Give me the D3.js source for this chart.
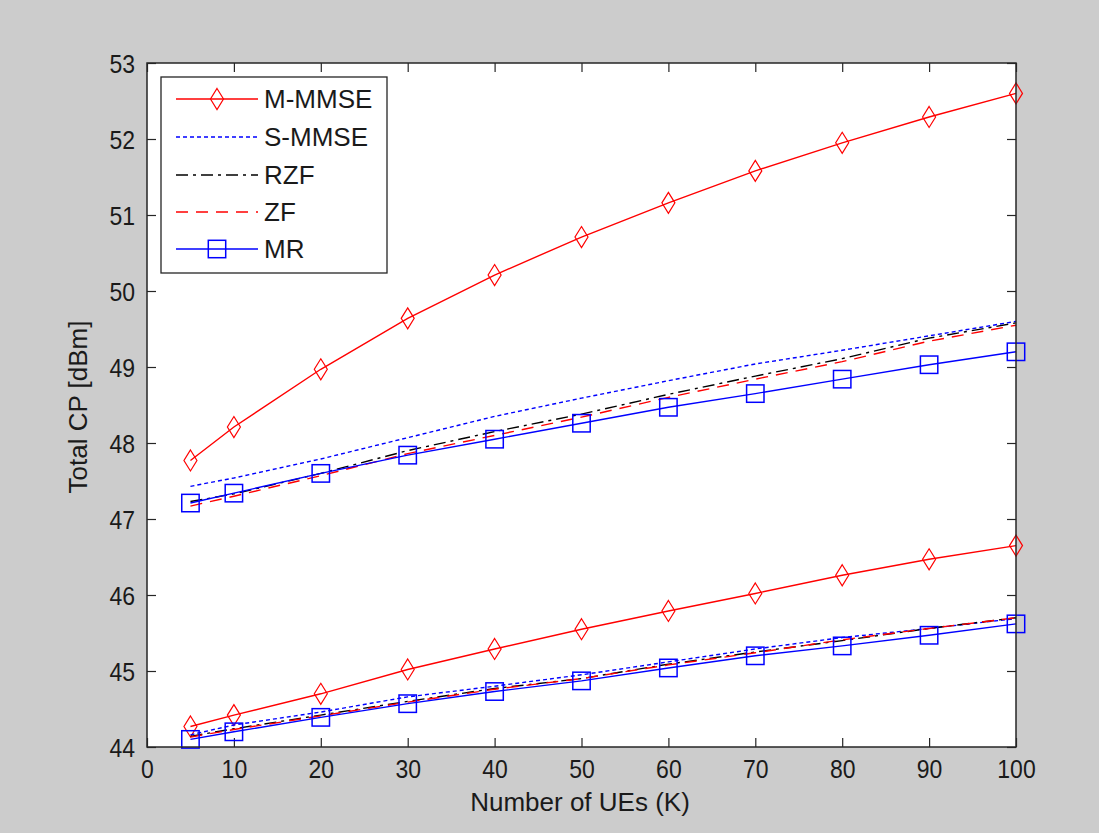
<!DOCTYPE html>
<html>
<head>
<meta charset="utf-8">
<script src="https://cdn.jsdelivr.net/npm/d3@7"></script>
<style>
  html, body { margin: 0; padding: 0; background: #cccccc; }
  svg { display: block; }
  text { font-family: "Liberation Sans", Arial, sans-serif; fill: #1a1a1a; }
</style>
</head>
<body>
<svg id="chart" width="1099" height="833"></svg>
<script>
// ---- data ----
const users = [5, 10, 20, 30, 40, 50, 60, 70, 80, 90, 100];
const xTicks = [0, 10, 20, 30, 40, 50, 60, 70, 80, 90, 100];
const yTicks = [44, 45, 46, 47, 48, 49, 50, 51, 52, 53];
const seriesNames = ["M-MMSE", "S-MMSE", "RZF", "ZF", "MR"];

// upper group of curves
const mmmseHigh = [47.77, 48.21, 48.97, 49.64, 50.21, 50.71, 51.16, 51.58, 51.95, 52.29, 52.60];
const smmseHigh = [47.43, 47.54, 47.79, 48.07, 48.35, 48.59, 48.82, 49.04, 49.22, 49.41, 49.60];
const rzfHigh   = [47.23, 47.33, 47.60, 47.90, 48.15, 48.38, 48.64, 48.88, 49.11, 49.38, 49.58];
const zfHigh    = [47.17, 47.30, 47.57, 47.86, 48.10, 48.34, 48.60, 48.84, 49.07, 49.34, 49.55];
const mrHigh    = [47.21, 47.34, 47.60, 47.84, 48.05, 48.26, 48.47, 48.65, 48.84, 49.03, 49.20];

// lower group of curves
const mmmseLow = [44.27, 44.42, 44.70, 45.02, 45.29, 45.55, 45.79, 46.02, 46.26, 46.47, 46.65];
const smmseLow = [44.16, 44.29, 44.46, 44.66, 44.80, 44.95, 45.12, 45.29, 45.44, 45.56, 45.69];
const rzfLow   = [44.14, 44.24, 44.42, 44.60, 44.77, 44.90, 45.09, 45.25, 45.40, 45.56, 45.70];
const zfLow    = [44.13, 44.23, 44.41, 44.59, 44.76, 44.90, 45.08, 45.24, 45.41, 45.56, 45.70];
const mrLow    = [44.10, 44.20, 44.39, 44.57, 44.73, 44.87, 45.04, 45.20, 45.33, 45.47, 45.62];

// ---- styles ----
const styles = {
  "M-MMSE": { color: "#ff0000", dash: null, marker: "diamond" },
  "S-MMSE": { color: "#0000ff", dash: "4,3", marker: null },
  "RZF":    { color: "#000000", dash: "12,5,3,5", marker: null },
  "ZF":     { color: "#ff0000", dash: "12,8", marker: null },
  "MR":     { color: "#0000ff", dash: null, marker: "square" }
};

const groups = [
  { "M-MMSE": mmmseHigh, "S-MMSE": smmseHigh, "RZF": rzfHigh, "ZF": zfHigh, "MR": mrHigh },
  { "M-MMSE": mmmseLow, "S-MMSE": smmseLow, "RZF": rzfLow, "ZF": zfLow, "MR": mrLow }
];

const svg = d3.select("#chart");
const L = 147, R = 1016, T = 63, B = 747;

const x = d3.scaleLinear().domain([0, 100]).range([L, R]);
const y = d3.scaleLinear().domain([44, 53]).range([B, T]);

// plot area
svg.append("rect").attr("x", L).attr("y", T).attr("width", R - L).attr("height", B - T)
  .attr("fill", "#ffffff");

// axes (ticks inside)
const tickLen = 9;
const tickFont = 25;
const labelFont = 26;
const axB = svg.append("g").attr("transform", `translate(0,${B})`)
  .call(d3.axisBottom(x).tickValues(xTicks).tickSize(-tickLen).tickPadding(0).tickFormat(d3.format("d")));
const axT = svg.append("g").attr("transform", `translate(0,${T})`)
  .call(d3.axisTop(x).tickValues(xTicks).tickSize(-tickLen).tickFormat(""));
const axL = svg.append("g").attr("transform", `translate(${L},0)`)
  .call(d3.axisLeft(y).tickValues(yTicks).tickSize(-tickLen).tickPadding(0).tickFormat(d3.format("d")));
const axR = svg.append("g").attr("transform", `translate(${R},0)`)
  .call(d3.axisRight(y).tickValues(yTicks).tickSize(-tickLen).tickFormat(""));
[axB, axT, axL, axR].forEach(a => {
  a.select(".domain").remove();
  a.selectAll(".tick line").attr("stroke", "#262626").attr("stroke-width", 1.2);
  a.selectAll("text").style("font-family", "'Liberation Sans', Arial, sans-serif")
    .style("font-size", tickFont + "px").attr("fill", "#1a1a1a");
});
// place tick labels: slightly condensed glyphs like the reference
axB.selectAll(".tick text").attr("x", null).attr("y", null).attr("dy", null)
  .attr("transform", "translate(0,31) scale(0.92,1)");
axL.selectAll(".tick text").attr("x", null).attr("y", null).attr("dy", null)
  .attr("transform", "translate(-12,9) scale(0.92,1)");

const line = d3.line().x((d, i) => x(users[i])).y(d => y(d));

function drawMarker(g, type, cx, cy, color) {
  if (type === "diamond") {
    const w = 6.5, h = 10.5;
    g.append("path")
      .attr("d", `M${cx},${cy - h}L${cx + w},${cy}L${cx},${cy + h}L${cx - w},${cy}Z`)
      .attr("fill", "none").attr("stroke", color).attr("stroke-width", 1.2);
  } else if (type === "square") {
    const s = 8.7;
    g.append("rect").attr("x", cx - s).attr("y", cy - s).attr("width", 2 * s).attr("height", 2 * s)
      .attr("fill", "none").attr("stroke", color).attr("stroke-width", 1.5);
  }
}

const plot = svg.append("g");
groups.forEach(grp => {
  seriesNames.forEach(name => {
    const st = styles[name];
    const vals = grp[name];
    plot.append("path").datum(vals)
      .attr("d", line)
      .attr("fill", "none")
      .attr("stroke", st.color)
      .attr("stroke-width", 1.4)
      .attr("stroke-dasharray", st.dash);
    if (st.marker) {
      vals.forEach((v, i) => drawMarker(plot, st.marker, x(users[i]), y(v), st.color));
    }
  });
});

// frame
svg.append("rect").attr("x", L).attr("y", T).attr("width", R - L).attr("height", B - T)
  .attr("fill", "none").attr("stroke", "#262626").attr("stroke-width", 1.5);

// axis labels
svg.append("text").attr("x", 580).attr("y", 811).attr("text-anchor", "middle")
  .style("font-size", labelFont + "px").text("Number of UEs (K)");
svg.append("text").attr("transform", "translate(87,407) rotate(-90)").attr("text-anchor", "middle")
  .style("font-size", labelFont + "px").text("Total CP [dBm]");

// legend
const lg = svg.append("g");
lg.append("rect").attr("x", 161).attr("y", 77).attr("width", 226).attr("height", 196)
  .attr("fill", "#ffffff").attr("stroke", "#262626").attr("stroke-width", 1.3);
const legendY = [99, 137, 175, 212, 249];
seriesNames.forEach((name, i) => {
  const st = styles[name];
  const yy = legendY[i];
  lg.append("line").attr("x1", 176).attr("x2", 258).attr("y1", yy).attr("y2", yy)
    .attr("stroke", st.color).attr("stroke-width", 1.4).attr("stroke-dasharray", st.dash);
  if (st.marker) drawMarker(lg, st.marker, 217, yy, st.color);
  lg.append("text").attr("x", 264).attr("y", yy).attr("dy", "0.36em")
    .style("font-size", labelFont + "px").text(name);
});
</script>
</body>
</html>
